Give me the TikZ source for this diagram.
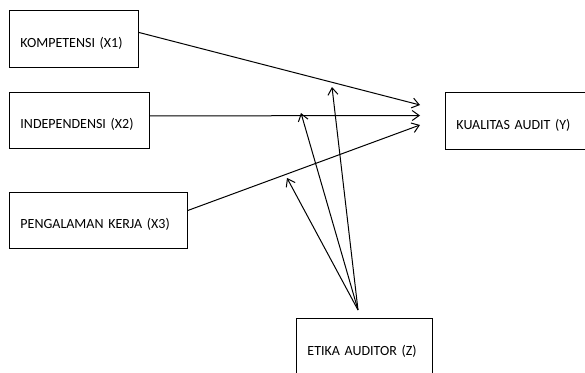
\documentclass[tikz,border=0pt]{standalone}
\usepackage{fontspec}
\setmainfont{Carlito}
\usetikzlibrary{positioning,arrows.meta}

\begin{document}
\begin{tikzpicture}
    [x=1pt,y=-1pt,
     var/.style={rectangle,draw,line width=0.9pt,anchor=north west,
       inner xsep=11pt,align=left,text height=17pt,text depth=0pt,
       font=\fontsize{14}{17}\selectfont},
     rel/.style={->,line width=1pt},
     >={Straight Barb[length=7pt,width=10pt]}]

    \useasboundingbox (0,0) rectangle (585,372);
    \clip (0,0) rectangle (585,372);

    \node[var,text width=107pt,minimum height=57pt] (x1) at (9,10) {KOMPETENSI (X1)};
    \node[var,text width=118pt,minimum height=56pt] (x2) at (9,92) {INDEPENDENSI (X2)};
    \node[var,text width=156pt,minimum height=56pt] (x3) at (9,192) {PENGALAMAN KERJA (X3)};
    \node[var,text width=123pt,minimum height=57pt] (y) at (445,92) {KUALITAS AUDIT (Y)};
    \node[var,text width=114pt,minimum height=57pt] (z) at (296,318) {ETIKA AUDITOR (Z)};

    % arrow ends
    \coordinate (t1) at (420,105);
    \coordinate (t2) at (420,115.5);
    \coordinate (t3) at (420,125);
    \coordinate (zt) at (358,310);
    \coordinate (m1) at (332,87);
    \coordinate (m2) at (301,113);
    \coordinate (m3) at (287,178);

    \draw[rel] ([yshift=6.5pt]x1.east) -- (t1);
    \draw[rel] ([yshift=4.5pt]x2.east) -- (t2);
    \draw[rel] ([yshift=10pt]x3.east) -- (t3);

    % moderator
    \draw[rel] (zt) -- (m1);
    \draw[rel] (zt) -- (m2);
    \draw[rel] (zt) -- (m3);
\end{tikzpicture}
\end{document}
